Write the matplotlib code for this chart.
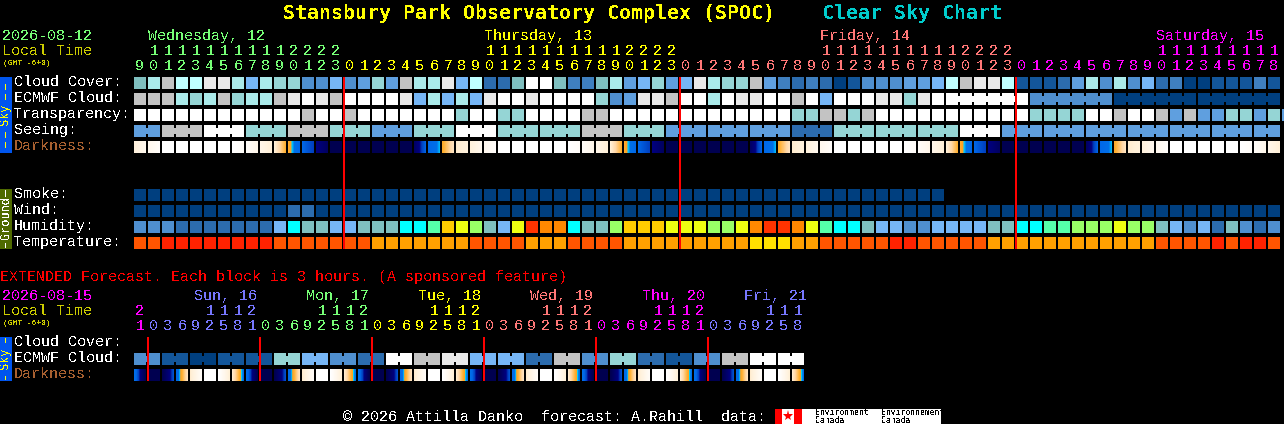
import matplotlib
matplotlib.use("Agg")
import matplotlib.pyplot as plt
import numpy as np
from matplotlib.colors import LinearSegmentedColormap

plt.rcParams['text.antialiased'] = False
plt.rcParams['font.family'] = ['Liberation Mono', 'DejaVu Sans Mono']

# colour codes for one block
BLOCK_COLORS = {
    # cloud, transparency, seeing
    'a': '#003f7f', 'b': '#13569a', 'c': '#2c6cae', 'd': '#3f7fbf', 'e': '#4f8fcf',
    'f': '#5f9fdf', 'g': '#76b6f6', 'h': '#7fbfbf', 'i': '#95d5d5', 'j': '#aaeaea',
    'k': '#bfffff', 'l': '#c3c3c3', 'm': '#e9e9e9', 'n': '#ffffff',
    # humidity
    'A': '#00ffff', 'B': '#55ffaa', 'C': '#99ff66', 'D': '#eeff11', 'E': '#ffcc00',
    'F': '#ff8800', 'G': '#ff3300',
    # temperature
    'P': '#ff5500', 'R': '#ff2200', 'Q': '#ffa000', 'Y': '#ffe000',
}

HOURS = [9, 10, 11, 12, 13, 14, 15, 16, 17, 18, 19, 20, 21, 22, 23,
         0, 1, 2, 3, 4, 5, 6, 7, 8, 9, 10, 11, 12, 13, 14, 15, 16, 17, 18, 19, 20, 21, 22, 23,
         0, 1, 2, 3, 4, 5, 6, 7, 8, 9, 10, 11, 12, 13, 14, 15, 16, 17, 18, 19, 20, 21, 22, 23,
         0, 1, 2, 3, 4, 5, 6, 7, 8, 9, 10, 11, 12, 13, 14, 15, 16, 17, 18]
HOURS_EXT = [21,
             0, 3, 6, 9, 12, 15, 18, 21,
             0, 3, 6, 9, 12, 15, 18, 21,
             0, 3, 6, 9, 12, 15, 18, 21,
             0, 3, 6, 9, 12, 15, 18, 21,
             0, 3, 6, 9, 12, 15, 18, 21,
             0, 3, 6, 9, 12, 15, 18]

GREEN = '#77ff77'
YELLOW = '#ffff00'
SALMON = '#ff7777'
MAGENTA = '#ff00ff'
BLUE = '#7777ff'
OLIVE = '#cccc00'
BROWN = '#a86030'

DAY_NAMES = ["Wednesday, 12", "Thursday, 13", "Friday, 14", "Saturday, 15"]
DAY_COLORS = [GREEN, YELLOW, SALMON, MAGENTA]
DAY_NAMES_EXT = ["Sun, 16", "Mon, 17", "Tue, 18", "Wed, 19", "Thu, 20", "Fri, 21"]
DAY_COLORS_EXT = [MAGENTA, BLUE, GREEN, YELLOW, SALMON, MAGENTA, BLUE]

CLOUD = "hjlkkmmjgjiieegefiflj" "jmgkcchnnhddhjfgifgmjiilfdcdcab" "eeeffgklmmkbbbcfjejegcdaabbbdb"
ECMWF = "llljijlijjlmnmlnnnnmg" "jgjgmnnmnnnniefmmlnnjnmmnnlngnn" "nmmimnnnnnnneeeeeeaaaaaaaaaaaa"
ECMWF_RUNS = [1] * 58 + [6, 6, 6, 6]
TRANSPARENCY = "nnnnnnnnnnnnlnnlnnnnnnninniinnnnllnnnnnnnnnnnnniillil" "nnnnnnnnnnniiiinnlnnlflffiifif"
SEEING = "flnilifinii" "lifffciiinfffffff"
SEEING_RUNS = [2] + [3] * 26 + [2]
SMOKE = "a" * 58
WIND = "aaaaaaaaaaaccaaaaaaaaaaaaaaaaaaaaaaaaaaaaaaaaaaaaaaaaaaaaaaaaaaaaaaaaaaaaaaaaaaaaa"
HUMIDITY = "eeeccccccc" "gAhhgghhhAA" "BEDChgDGFFAhhCEEEDDDCCDFGGFDBAA" "hggeegggghhAABBCCCDCChgegchece"
TEMPERATURE = "PPRRRRRRRRPPPPPPPQQQQQQQ" "PPPPQQQPPPPQQQQQQQQQYYYQQPPPPPRRPPPPP" "QQQQQQQQQQQQPPPPRPRRP"

CLOUD_EXT = "ebabbigecnlmggcleicbelnn"

# darkness: 0 is daylight, 1 is full dark, value at left and right of each block
DARK_LEFT = [.18, .10, 0, 0, 0, 0, 0, 0, .04, .12, .20, .43, .62, .78, 1, 1, 1, 1, 1, 1, .90, .62, .44, .22,
             .18, .10, 0, 0, 0, 0, 0, 0, .04, .12, .20, .43, .62, .78, 1, 1, 1, 1, 1, 1, .90, .62, .44, .22,
             .18, .10, 0, 0, 0, 0, 0, 0, .04, .12, .20, .43, .62, .78, 1, 1, 1, 1, 1, 1, .90, .62, .44, .22,
             .18, .10, 0, 0, 0, 0, 0, 0, .04, .12]
DARK_RIGHT = [.10, .03, 0, 0, 0, 0, 0, .04, .12, .20, .42, .62, .72, .92, 1, 1, 1, 1, 1, 1, .63, .50, .25, .18,
              .10, .03, 0, 0, 0, 0, 0, .04, .12, .20, .42, .62, .72, .92, 1, 1, 1, 1, 1, 1, .63, .50, .25, .18,
              .10, .03, 0, 0, 0, 0, 0, .04, .12, .20, .42, .62, .72, .92, 1, 1, 1, 1, 1, 1, .63, .50, .25, .18,
              .10, .03, 0, 0, 0, 0, 0, .04, .12, .20]
DARK_LEFT_EXT = [.55, 1, 1, .60, .22, 0, 0, .22,
                 .55, 1, 1, .60, .22, 0, 0, .22,
                 .55, 1, 1, .60, .22, 0, 0, .22,
                 .55, 1, 1, .60, .22, 0, 0, .22,
                 .55, 1, 1, .60, .22, 0, 0, .22,
                 .55, 1, 1, .60, .22, 0, 0, .22]
DARK_RIGHT_EXT = [1, 1, .68, .25, .05, 0, .20, .55,
                  1, 1, .68, .25, .05, 0, .20, .55,
                  1, 1, .68, .25, .05, 0, .20, .55,
                  1, 1, .68, .25, .05, 0, .20, .55,
                  1, 1, .68, .25, .05, 0, .20, .55,
                  1, 1, .68, .25, .05, 0, .20, .55]

dark_cmap = LinearSegmentedColormap.from_list("darkness", [
    (0, '#ffffff'), (.1, '#fff8ee'), (.2, '#fff0d8'), (.3, '#ffd8a8'), (.42, '#ffb030'),
    (.47, '#ffa020'), (.49, '#00d0ff'), (.53, '#0070e8'), (.62, '#0068e8'), (.72, '#0040c0'),
    (.78, '#000080'), (.92, '#000060'), (1, '#000050')], N=512)

X0 = 134
STEP = 14
SIZE = 12
NECK = 6


def cell_x(i):
    return X0 + STEP * i


def draw_row(ax, codes, y, runs=None):
    x = [cell_x(i) for i in range(len(codes))]
    colors = [BLOCK_COLORS[c] for c in codes]
    ax.bar(x, SIZE, width=SIZE, bottom=y, color=colors, align='edge', antialiased=False, linewidth=0)
    if runs is None:
        return
    # blocks of one run are joined by a small neck
    i = 0
    for r in runs:
        for j in range(i, i + r - 1):
            ax.bar(cell_x(j) + SIZE, NECK, width=STEP - SIZE, bottom=y + (SIZE - NECK) / 2,
                   color=colors[j], align='edge', antialiased=False, linewidth=0)
        i += r


def draw_darkness(ax, left, right, y):
    for i in range(len(left)):
        strip = np.linspace(left[i], right[i], SIZE).reshape(1, SIZE)
        ax.imshow(strip, cmap=dark_cmap, vmin=0, vmax=1, aspect='auto', interpolation='nearest',
                  extent=(cell_x(i), cell_x(i) + SIZE, y + SIZE, y))


def draw_hours(ax, hours, colors_by_day, y_tens, y_units):
    day = 0
    last = hours[0]
    for i, h in enumerate(hours):
        if h < last:
            day += 1
        last = h
        c = colors_by_day[day]
        cx = cell_x(i) + SIZE / 2
        if h >= 10:
            ax.text(cx, y_tens, str(h // 10), color=c, fontsize=PT15, ha='center', va='baseline')
        ax.text(cx, y_units, str(h % 10), color=c, fontsize=PT15, ha='center', va='baseline')


def side_bar(ax, y0, y1, color, txt, txt_color, dashes):
    ax.bar(0, y1 - y0, width=12, bottom=y0, color=color, align='edge', antialiased=False, linewidth=0)
    ax.text(6, (y0 + y1) / 2 - 1, txt, color=txt_color, fontsize=8.6, rotation=90, ha='center', va='center')
    for d0, d1 in dashes:
        ax.bar(5, d1 - d0, width=1, bottom=d0, color=txt_color, align='edge', antialiased=False, linewidth=0)


PT15 = 15 * 72 / 100
PT_TITLE = 20 * 72 / 100

fig = plt.figure(figsize=(12.84, 4.24), dpi=100, facecolor='black')
ax = fig.add_axes([0, 0, 1, 1])
ax.set_facecolor('black')
ax.axis('off')

# title
ax.text(283, 19, "Stansbury Park Observatory Complex (SPOC)", color='#ffff00', fontsize=PT_TITLE,
        fontweight='bold', family='DejaVu Sans Mono', va='baseline')
ax.text(822, 19, "Clear Sky Chart", color='#00cccc', fontsize=PT_TITLE, fontweight='bold',
        family='DejaVu Sans Mono', va='baseline')

# main header
ax.text(2, 40, "2026-08-12", color=GREEN, fontsize=PT15, va='baseline')
ax.text(2, 55, "Local Time", color=OLIVE, fontsize=PT15, va='baseline')
ax.text(3, 65, "(GMT -6+0)", color=OLIVE, fontsize=5.8, va='baseline')
for name, col, k in zip(DAY_NAMES, DAY_COLORS, [1, 25, 49, 73]):
    ax.text(cell_x(k), 40, name, color=col, fontsize=PT15, va='baseline')
draw_hours(ax, HOURS, DAY_COLORS, 55, 70)

# main sky rows
draw_row(ax, CLOUD, 77)
draw_row(ax, ECMWF, 93, ECMWF_RUNS)
draw_row(ax, TRANSPARENCY, 109)
seeing_cells = "".join(c * r for c, r in zip(SEEING, SEEING_RUNS))
draw_row(ax, seeing_cells, 125, SEEING_RUNS)
draw_darkness(ax, DARK_LEFT, DARK_RIGHT, 141)

# ground rows
draw_row(ax, SMOKE, 189)
draw_row(ax, WIND, 205)
draw_row(ax, HUMIDITY, 221)
draw_row(ax, TEMPERATURE, 237)

labels = ["Cloud Cover:", "ECMWF Cloud:", "Transparency:", "Seeing:", "Darkness:",
          "Smoke:", "Wind:", "Humidity:", "Temperature:"]
label_y = [86, 102, 118, 134, 150, 198, 214, 230, 246]
for t, y in zip(labels, label_y):
    ax.text(14, y, t, color=BROWN if t == "Darkness:" else 'white', fontsize=PT15, va='baseline')

side_bar(ax, 77, 153, '#0055ee', "Sky", '#ffff00', [(84, 90), (94, 100), (132, 138), (142, 148)])
side_bar(ax, 189, 249, '#4f6a00', "Ground", 'white', [(190, 197), (243, 248)])

# midnight lines
for k in [15, 39, 63]:
    ax.bar(cell_x(k) - 1, 172, width=2, bottom=77, color='#ff0000', align='edge', antialiased=False, linewidth=0)

# extended forecast
ax.text(0, 281, "EXTENDED Forecast. Each block is 3 hours. (A sponsored feature)", color='#ff0000',
        fontsize=PT15, va='baseline')
ax.text(2, 300, "2026-08-15", color=MAGENTA, fontsize=PT15, va='baseline')
ax.text(2, 315, "Local Time", color=OLIVE, fontsize=PT15, va='baseline')
ax.text(3, 325, "(GMT -6+0)", color=OLIVE, fontsize=5.8, va='baseline')
for name, col, x in zip(DAY_NAMES_EXT, DAY_COLORS_EXT[1:], [194, 306, 418, 530, 642, 744]):
    ax.text(x, 300, name, color=col, fontsize=PT15, va='baseline')
draw_hours(ax, HOURS_EXT, DAY_COLORS_EXT, 315, 330)

draw_row(ax, "".join(c + c for c in CLOUD_EXT), 353, [2] * 24)
draw_darkness(ax, DARK_LEFT_EXT, DARK_RIGHT_EXT, 369)

for t, y, c in [("Cloud Cover:", 346, 'white'), ("ECMWF Cloud:", 362, 'white'), ("Darkness:", 378, BROWN)]:
    ax.text(14, y, t, color=c, fontsize=PT15, va='baseline')
side_bar(ax, 337, 381, '#0055ee', "Sky", '#ffff00', [(338, 343), (376, 380)])

for k in [1, 9, 17, 25, 33, 41]:
    ax.bar(cell_x(k) - 1, 44, width=2, bottom=337, color='#ff0000', align='edge', antialiased=False, linewidth=0)

# footer
ax.text(343, 421, "\u00a9 2026 Attilla Danko  forecast: A.Rahill  data:", color='white', fontsize=PT15, va='baseline')
ax.bar(775, 15, width=166, bottom=409, color='white', align='edge', antialiased=False, linewidth=0)
ax.bar([775, 794], 15, width=[7, 8], bottom=409, color='#ff0000', align='edge', antialiased=False, linewidth=0)
ax.plot([788], [416], marker='*', color='#ff0000', markersize=8, markeredgewidth=0)
for x, word in [(815, "Environment"), (881, "Environnement")]:
    ax.text(x, 415, word, color='black', fontsize=5.8, family='DejaVu Sans Mono', va='baseline')
    ax.text(x, 423, "Canada", color='black', fontsize=5.8, family='DejaVu Sans Mono', va='baseline')

ax.set_xlim(0, 1284)
ax.set_ylim(424, 0)
fig.savefig("out.png", dpi=100, facecolor='black')
